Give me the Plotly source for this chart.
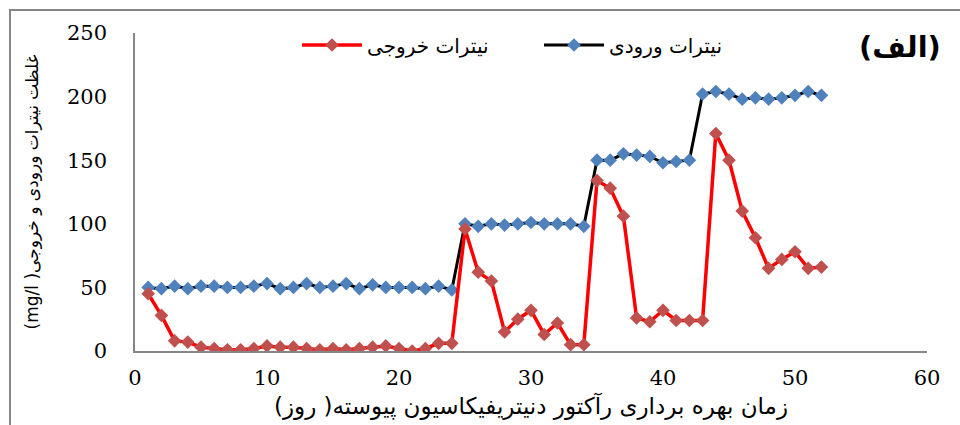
import plotly.graph_objects as go

days = list(range(1, 53))

influent = [50, 49, 51, 49, 51, 51, 50, 50, 51, 53, 49, 50, 53, 50, 51, 53, 49, 52, 50, 50,
            50, 49, 51, 48, 100, 98, 100, 99, 100, 101, 100, 100, 100, 98, 150, 150, 155, 154,
            153, 148, 149, 150, 202, 204, 202, 198, 199, 198, 199, 201, 204, 201]

effluent = [45, 28, 8, 7, 3, 2, 1, 1, 2, 4, 3, 3, 2, 1, 2, 1, 2, 3, 4, 2,
            0, 2, 6, 6, 96, 62, 55, 15, 25, 32, 13, 22, 5, 5, 134, 128, 106, 26,
            23, 32, 24, 24, 24, 171, 150, 110, 89, 65, 72, 78, 65, 66]

name_in = "نیترات ورودی"
name_out = "نیترات خروجی"
x_title = "\u202bزمان بهره برداری رآکتور دنیتریفیکاسیون پیوسته( روز)\u202c"
y_title = "\u202bغلظت نیترات ورودی و خروجی( mg/l)\u202c"
panel_label = "\u202b(الف)\u202c"

x_ticks = [0, 10, 20, 30, 40, 50, 60]
y_ticks = [0, 50, 100, 150, 200, 250]

fig = go.Figure()
fig.add_trace(go.Scatter(
    x=days, y=influent, name=name_in, mode="lines+markers",
    line=dict(color="black", width=3),
    marker=dict(symbol="diamond", size=10.5, color="#4F81BD"),
))
fig.add_trace(go.Scatter(
    x=days, y=effluent, name=name_out, mode="lines+markers",
    line=dict(color="#FF0000", width=3.5),
    marker=dict(symbol="diamond", size=10.5, color="#C0504D"),
))

L, R, T, B = 135, 33, 33, 74
W, H = 960, 425
pw, ph = W - L - R, H - T - B

def px(xp):
    return (xp - L) / pw

def py(yp):
    return (H - B - yp) / ph

fig.add_shape(type="rect", xref="paper", yref="paper",
              x0=px(10), x1=px(980), y0=py(450), y1=py(10),
              line=dict(color="#868686", width=2), fillcolor="rgba(0,0,0,0)", layer="below")

fig.add_annotation(text=panel_label, xref="paper", yref="paper",
                   x=px(900), y=py(47), xanchor="center", yanchor="middle", showarrow=False,
                   font=dict(family="DejaVu Sans", size=29, color="black", weight="bold"))

fig.update_layout(
    width=W, height=H,
    margin=dict(l=L, r=R, t=T, b=B, autoexpand=False),
    plot_bgcolor="white", paper_bgcolor="white",
    showlegend=True,
    legend=dict(orientation="h", x=px(297), y=py(45), xanchor="left", yanchor="middle",
                traceorder="reversed", entrywidth=167, entrywidthmode="pixels",
                itemwidth=60,
                font=dict(family="DejaVu Sans", size=20, color="black"),
                bgcolor="rgba(0,0,0,0)"),
    xaxis=dict(range=[0, 60], tickvals=x_ticks, showgrid=False, zeroline=False,
               showline=True, linecolor="#868686", linewidth=1.5, ticks="",
               automargin=False, ticklabelstandoff=7,
               tickfont=dict(family="DejaVu Serif", size=21, color="black"),
               title=dict(text=x_title, standoff=9,
                          font=dict(family="DejaVu Sans", size=23, color="black"))),
    yaxis=dict(range=[0, 250], tickvals=y_ticks, showgrid=False, zeroline=False,
               showline=True, linecolor="#868686", linewidth=1.5, ticks="",
               automargin=False, ticklabelstandoff=22,
               tickfont=dict(family="DejaVu Serif", size=21, color="black"),
               title=dict(text=y_title, standoff=24,
                          font=dict(family="DejaVu Sans", size=17, color="black"))),
)

fig.write_html("out.html", config={"displayModeBar": False},
               post_script="document.body.style.margin='0px';")
